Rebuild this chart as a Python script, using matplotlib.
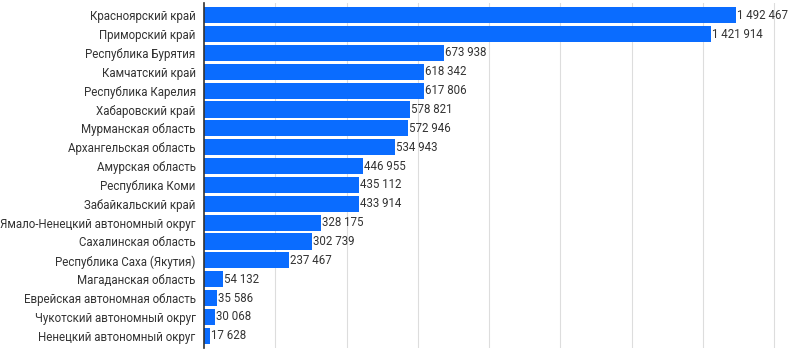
import matplotlib
matplotlib.use('Agg')
from matplotlib import pyplot as plt

regions = ['Красноярский край', 'Приморский край', 'Республика Бурятия',
           'Камчатский край', 'Республика Карелия', 'Хабаровский край',
           'Мурманская область', 'Архангельская область', 'Амурская область',
           'Республика Коми', 'Забайкальский край',
           'Ямало-Ненецкий автономный округ', 'Сахалинская область',
           'Республика Саха (Якутия)', 'Магаданская область',
           'Еврейская автономная область', 'Чукотский автономный округ',
           'Ненецкий автономный округ']
values = [1492467, 1421914, 673938, 618342, 617806, 578821, 572946, 534943,
          446955, 435112, 433914, 328175, 302739, 237467, 54132, 35586,
          30068, 17628]

def fmt(v):
    return f'{v:,}'.replace(',', ' ')

plt.rcParams['font.family'] = ['Roboto', 'DejaVu Sans']

fig = plt.figure(figsize=(7.95, 3.51), dpi=100)
ax = fig.add_axes([204/795, 3/351, 1 - 204/795, 345/351])

y = list(range(len(regions)))
ax.barh(y, values, height=0.86, color='#0a6cff', zorder=2)
for yi, v in zip(y, values):
    ax.text(v + 3000, yi, fmt(v), va='center', ha='left',
            fontsize=8.3, color='#333333', zorder=3)

ax.set_ylim(len(regions) - 0.5 + 0.15, -0.5 - 0.15)
ax.set_xlim(0, 1658000)
ax.set_yticks(y)
ax.set_yticklabels(regions, fontsize=8.3, color='#333333')
ax.set_xticks(range(200000, 1600001, 200000))
ax.tick_params(axis='x', length=0, labelbottom=False)
ax.tick_params(axis='y', length=0, pad=6)
ax.grid(axis='x', color='#dddddd', linewidth=0.8, zorder=0)
for s in ['top', 'right', 'bottom']:
    ax.spines[s].set_visible(False)
ax.spines['left'].set_color('#333333')
ax.spines['left'].set_linewidth(1.2)
ax.spines['left'].set_zorder(4)

plt.savefig('out.png', dpi=100)
